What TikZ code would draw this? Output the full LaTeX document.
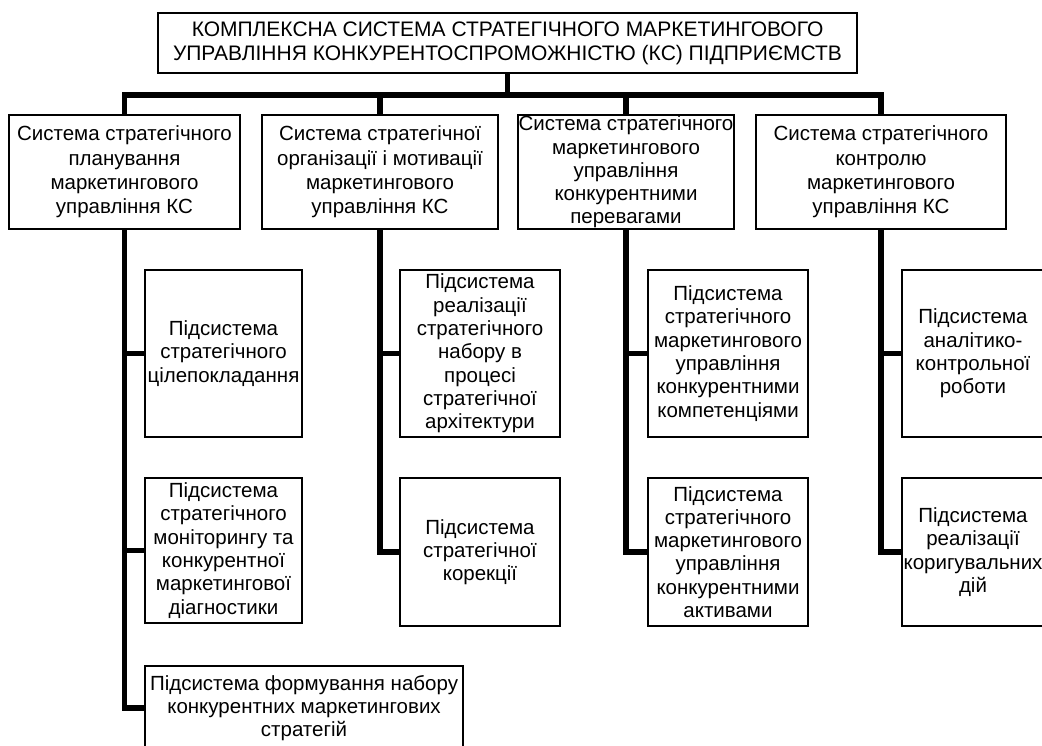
\documentclass[tikz,border=0pt]{standalone}
\usepackage{fontspec}
\setmainfont{Liberation Sans}
\newcommand\fstop{\fontsize{21}{24}\selectfont}
\newcommand\fsb{\fontsize{20.5}{24.3}\selectfont}
\newcommand\fsc{\fontsize{20.5}{23.3}\selectfont}
\begin{document}
\begin{tikzpicture}[x=1pt,y=-1pt,
  box/.style={draw, line width=1.1pt, inner sep=0pt, align=center},
  conn/.style={line width=5.5pt}]
\clip (0,0) rectangle (1042,745);
\fill[white] (0,0) rectangle (1042,745);
% top
\node[box, font=\fstop, minimum width=699pt, minimum height=60pt] (top) at (507.5,43)
  {КОМПЛЕКСНА СИСТЕМА СТРАТЕГІЧНОГО МАРКЕТИНГОВОГО\\УПРАВЛІННЯ КОНКУРЕНТОСПРОМОЖНІСТЮ (КС) ПІДПРИЄМСТВ};
% level 2
\node[box, font=\fsb, minimum width=231pt, minimum height=114pt] (A) at (124.5,172)
  {Система стратегічного\\планування\\маркетингового\\управління КС};
\node[box, font=\fsb, minimum width=236pt, minimum height=114pt] (B) at (380,172)
  {Система стратегічної\\організації і мотивації\\маркетингового\\управління КС};
\node[box, font=\fsc, minimum width=216pt, minimum height=114pt] (C) at (626,172)
  {Система стратегічного\\маркетингового\\управління\\конкурентними\\перевагами};
\node[box, font=\fsb, minimum width=250pt, minimum height=114pt] (D) at (881,172)
  {Система стратегічного\\контролю\\маркетингового\\управління КС};
% level 3, column 1
\node[box, font=\fsc, minimum width=157pt, minimum height=167pt] (A1) at (223.5,353.5)
  {Підсистема\\стратегічного\\цілепокладання};
\node[box, font=\fsc, minimum width=157pt, minimum height=145pt] (A2) at (223.5,550.5)
  {Підсистема\\стратегічного\\моніторингу та\\конкурентної\\маркетингової\\діагностики};
\node[box, font=\fsc, minimum width=318pt, minimum height=84pt] (A3) at (304,708)
  {Підсистема формування набору\\конкурентних маркетингових\\стратегій};
% column 2
\node[box, font=\fsc, minimum width=160pt, minimum height=167pt] (B1) at (480,353.5)
  {Підсистема\\реалізації\\стратегічного\\набору в\\процесі\\стратегічної\\архітектури};
\node[box, font=\fsc, minimum width=160pt, minimum height=148pt] (B2) at (480,552)
  {Підсистема\\стратегічної\\корекції};
% column 3
\node[box, font=\fsc, minimum width=160pt, minimum height=167pt] (C1) at (728,353.5)
  {Підсистема\\стратегічного\\маркетингового\\управління\\конкурентними\\компетенціями};
\node[box, font=\fsc, minimum width=160pt, minimum height=148pt] (C2) at (728,552)
  {Підсистема\\стратегічного\\маркетингового\\управління\\конкурентними\\активами};
% column 4
\node[box, font=\fsc, minimum width=142pt, minimum height=167pt] (D1) at (973,353.5)
  {Підсистема\\аналітико-\\контрольної\\роботи};
\node[box, font=\fsc, minimum width=142pt, minimum height=148pt] (D2) at (973,552)
  {Підсистема\\реалізації\\коригувальних\\дій};
% connectors
\coordinate (bar) at (0,95);
\draw[conn] (top.south) -- (top.south |- bar);
\draw[conn] (A.north) -- (A.north |- bar) -- (D.north |- bar) -- (D.north);
\draw[conn] (B.north) -- (B.north |- bar);
\draw[conn] (C.north) -- (C.north |- bar);
\draw[conn] (A.south) |- (A3.west);
\draw[conn] (A.south |- A1.west) -- (A1.west);
\draw[conn] (A.south |- A2.west) -- (A2.west);
\draw[conn] (B.south) |- (B2.west);
\draw[conn] (B.south |- B1.west) -- (B1.west);
\draw[conn] (C.south) |- (C2.west);
\draw[conn] (C.south |- C1.west) -- (C1.west);
\draw[conn] (D.south) |- (D2.west);
\draw[conn] (D.south |- D1.west) -- (D1.west);
\end{tikzpicture}
\end{document}
